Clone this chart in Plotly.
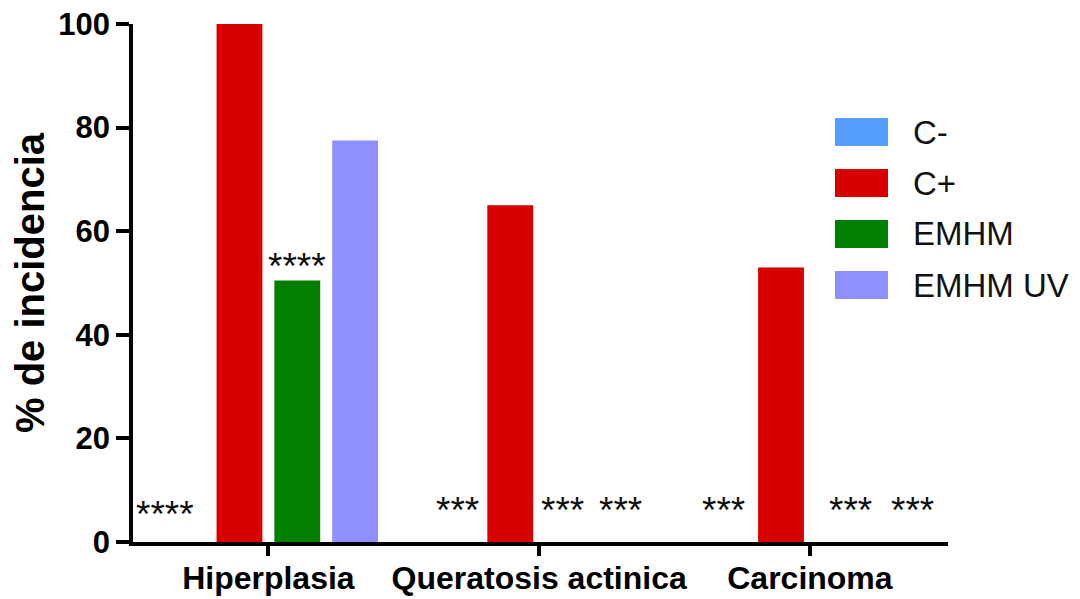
import plotly.graph_objects as go

categories = ["Hiperplasia", "Queratosis actinica", "Carcinoma"]
series_names = ["C-", "C+", "EMHM", "EMHM UV"]
c_minus = [0, 0, 0]
c_plus = [100, 65, 53]
emhm = [50.5, 0, 0]
emhm_uv = [77.5, 0, 0]
series_values = [c_minus, c_plus, emhm, emhm_uv]
colors = ["#559DFF", "#D90000", "#007F00", "#8F8FFF"]

# significance marks: (category index, series index, label)
sig_cat = [0, 0, 1, 1, 1, 2, 2, 2]
sig_ser = [0, 2, 0, 2, 3, 0, 2, 3]
sig_txt = ["****", "****", "***", "***", "***", "***", "***", "***"]
sig_xshift = [-17, 0, 5, -6, -5, 0, 12, 16]

y_ticks = [0, 20, 40, 60, 80, 100]

FONT = "Liberation Sans"
bargap = 0.146
bargroupgap = 0.207

fig = go.Figure()
for name, vals, col in zip(series_names, series_values, colors):
    fig.add_trace(go.Bar(
        x=list(range(len(categories))), y=vals, name=name,
        marker=dict(color=col, line=dict(width=0)),
        showlegend=False,
    ))

# asterisk annotations
slot = (1 - bargap) / len(series_names)
annotations = []
for ci, si, txt, xs in zip(sig_cat, sig_ser, sig_txt, sig_xshift):
    xpos = ci + (si - (len(series_names) - 1) / 2) * slot
    yv = series_values[si][ci]
    annotations.append(dict(
        x=xpos, y=yv, xref="x", yref="y", text=txt, showarrow=False,
        yanchor="bottom", xanchor="center",
        yshift=(5 if ci == 0 else 9) if yv == 0 else -9, xshift=xs,
        font=dict(family=FONT, size=37, color="#111111"),
    ))

# page has an 8px body margin; figure is offset by 8px
OFF = 8
W, H = 1080 - OFF, 599 - OFF
L, T = 133 - OFF, 24 - OFF
R = W - (948 - OFF)
B = H - (542 - OFF)
pw, ph = W - L - R, H - T - B
def px2x(p):
    return (p - OFF - L) / pw
def py2y(p):
    return (H - B - (p - OFF)) / ph

shapes = []
row_y = [132, 183, 234, 285]
for name, col, ry in zip(series_names, colors, row_y):
    shapes.append(dict(type="rect", xref="paper", yref="paper",
                       x0=px2x(835), x1=px2x(888), y0=py2y(ry + 14), y1=py2y(ry - 14),
                       fillcolor=col, line=dict(width=0)))
    annotations.append(dict(x=px2x(911), y=py2y(ry), xref="paper", yref="paper",
                            text=name, showarrow=False, xanchor="left", yanchor="middle",
                            font=dict(family=FONT, size=33, color="#111111")))

fig.update_layout(
    width=W, height=H,
    margin=dict(l=L, r=R, t=T, b=B),
    paper_bgcolor="white", plot_bgcolor="white",
    barmode="group", bargap=bargap, bargroupgap=bargroupgap,
    annotations=annotations, shapes=shapes,
    showlegend=False,
    xaxis=dict(
        tickmode="array", tickvals=list(range(len(categories))), ticktext=categories,
        range=[-0.5, 2.51], showline=True, linecolor="black", linewidth=3.5,
        ticks="outside", ticklen=10, tickwidth=3.5, tickcolor="black",
        showgrid=False, zeroline=False, automargin=False,
        ticklabelstandoff=-5, ticklabeloverflow="allow",
        tickfont=dict(family=FONT, size=32, color="black", weight="bold"),
    ),
    yaxis=dict(
        range=[0, 100], tickvals=y_ticks, showline=True, linecolor="black", linewidth=3.5,
        ticks="outside", ticklen=13, tickwidth=3.5, tickcolor="black",
        showgrid=False, zeroline=False, automargin=False, ticklabeloverflow="allow",
        tickfont=dict(family=FONT, size=31, color="black", weight="bold"),
        title=dict(text="% de incidencia", standoff=12,
                   font=dict(family=FONT, size=40, color="black", weight="bold")),
    ),
)

fig.write_html("out.html")
